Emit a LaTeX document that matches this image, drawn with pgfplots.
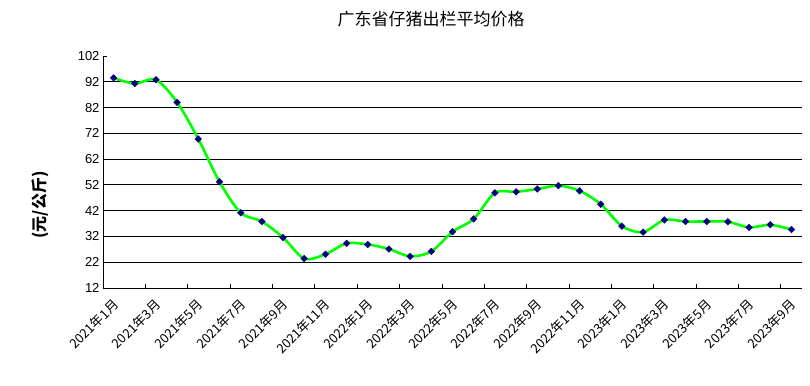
\documentclass[border=0pt]{standalone}
\usepackage{pgfplots}
\pgfplotsset{compat=1.18}
\usepackage{fontspec}
\setmainfont{Liberation Sans}
\newfontfamily\cjk{Noto Sans CJK SC}
\definecolor{navyblue}{RGB}{0,0,128}
\definecolor{brightgreen}{RGB}{0,255,0}
\pgfplotstableread{
x y
0 93.5
1 91.3
2 92.8
3 84.0
4 69.8
5 53.2
6 41.2
7 37.8
8 31.6
9 23.4
10 25.1
11 29.3
12 28.9
13 27.1
14 24.3
15 26.2
16 33.8
17 38.8
18 48.9
19 49.3
20 50.4
21 51.7
22 49.7
23 44.5
24 36.0
25 33.7
26 38.4
27 37.8
28 37.8
29 37.7
30 35.5
31 36.5
32 34.7
}\pricedata
\begin{document}
\begin{tikzpicture}[x=1pt,y=1pt]
\useasboundingbox (0,0) rectangle (810,385);
\begin{axis}[
  at={(103pt,97pt)}, anchor=south west,
  width=699pt, height=232pt, scale only axis,
  xmin=-0.5, xmax=32.5, ymin=12, ymax=102,
  enlargelimits=false,
  axis x line*=bottom, axis y line*=left,
  axis line style={black, line width=0.8pt},
  tick align=inside, major tick length=4pt,
  tick style={black, line width=0.8pt},
  xtick={-0.5,1.5,...,31.5}, xticklabels={},
  extra x ticks={0,2,...,32},
  extra x tick labels={2021年1月,2021年3月,2021年5月,2021年7月,2021年9月,2021年11月,2022年1月,2022年3月,2022年5月,2022年7月,2022年9月,2022年11月,2023年1月,2023年3月,2023年5月,2023年7月,2023年9月},
  extra x tick style={major tick length=0pt},
  x tick label style={font=\cjk\fontsize{13}{15}\selectfont, xshift=-2pt, yshift=-9pt, rotate=45, anchor=north east, inner sep=0.5pt},
  ytick={12,22,...,102},
  extra y ticks={22,32,...,92},
  extra y tick labels={},
  extra y tick style={grid=major, major tick length=0pt},
  grid style={black, line width=0.8pt},
  y tick label style={font=\fontsize{13}{15}\selectfont},
  /pgf/number format/assume math mode=true,
  clip=false,
]
\addplot[color=brightgreen, line width=2.6pt, smooth,
  mark=square*, mark size=2.4pt,
  mark options={rotate=45, fill=navyblue, draw=navyblue, line width=0.3pt}]
  table[x=x,y=y] {\pricedata};
\end{axis}
\node[font=\cjk\fontsize{17}{20}\selectfont] at (431,365.5) {广东省仔猪出栏平均价格};
\node[rotate=90, font=\cjk\bfseries\fontsize{16}{18}\selectfont] at (40,180) {(元/公斤)};
\end{tikzpicture}
\end{document}
